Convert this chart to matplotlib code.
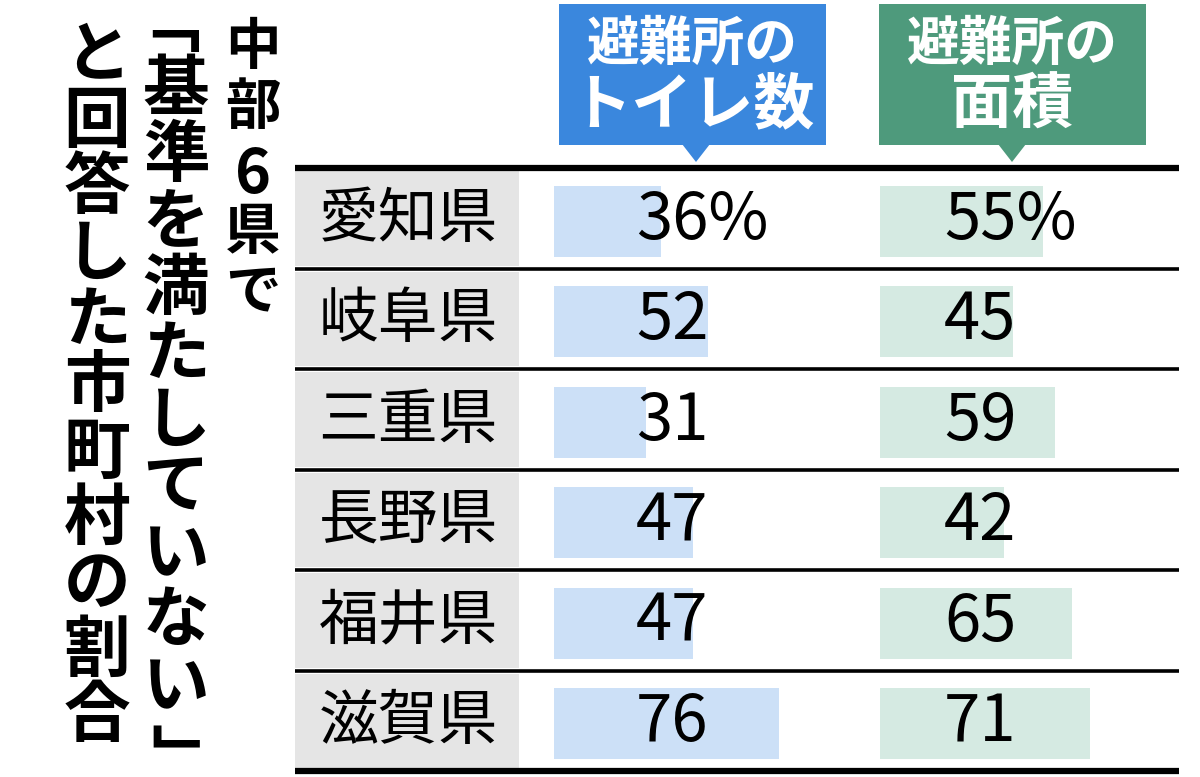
import matplotlib.pyplot as plt
from matplotlib.patches import Rectangle, Polygon

# data
prefectures = ['愛知県', '岐阜県', '三重県', '長野県', '福井県', '滋賀県']
toilet_pct = [36, 52, 31, 47, 47, 76]
area_pct = [55, 45, 59, 42, 65, 71]
toilet_head = ['避難所の', 'トイレ数']
area_head = ['避難所の', '面積']
title_cols = ['中部6県で', '﹁基準を満たしていない﹂', 'と回答した市町村の割合']

W, H = 1200, 777
plt.rcParams['font.family'] = ['Noto Sans CJK JP', 'DejaVu Sans']

fig = plt.figure(figsize=(W / 100, H / 100), dpi=100)
ax = fig.add_axes([0, 0, 1, 1])
ax.set_xlim(0, W)
ax.set_ylim(H, 0)
ax.axis('off')


def px_axes(x0, y0, x1, y1):
    a = fig.add_axes([x0 / W, 1 - y1 / H, (x1 - x0) / W, (y1 - y0) / H])
    a.axis('off')
    a.patch.set_alpha(0)
    return a


# vertical title, right column first
col_x = [253, 176, 97]
col1_y = [48, 108, 175, 233, 292]
col1_size = [40, 40, 44, 40, 40]
for ch, y, fs in zip(title_cols[0], col1_y, col1_size):
    ax.text(col_x[0], y, ch, fontsize=fs, fontweight='bold', ha='center', va='center')

# the vertical bracket glyphs sit off-centre in their em box, so nudge them
col2_chars = title_cols[1]
col2_y = [26] + [90 + 66.4 * k for k in range(10)] + [762]
col2_dx = [-9] + [0] * 10 + [9]
for ch, y, dx in zip(col2_chars, col2_y, col2_dx):
    ax.text(col_x[1] + dx, y, ch, fontsize=48, fontweight='bold', ha='center', va='center')
for k, ch in enumerate(title_cols[2]):
    ax.text(col_x[2], 57 + 66 * k, ch, fontsize=48, fontweight='bold', ha='center', va='center')

# table layout
top, row_h = 168, 100.5
n = len(prefectures)
bottom = top + n * row_h
left, right = 295, 1179

for i, name in enumerate(prefectures):
    y0 = top + i * row_h
    ax.add_patch(Rectangle((left, y0 + 3), 519 - left, row_h - 6, color='#e5e5e5', lw=0))
    ax.text(408, y0 + row_h / 2 + 2, name, fontsize=43, ha='center', va='center')

ax.hlines([top, bottom], left, right, color='black', lw=4.5)
ax.hlines([top + i * row_h for i in range(1, n)], left, right, color='black', lw=2.6)

# header boxes
heads = [(559, 826, 696, '#3a87dd', toilet_head), (879, 1146, 1012, '#4e9a7c', area_head)]
for x0, x1, tip, col, lines in heads:
    ax.add_patch(Rectangle((x0, 4), x1 - x0, 141, color=col, lw=0))
    ax.add_patch(Polygon([(tip - 14, 144), (tip + 14, 144), (tip, 162)], color=col, lw=0))
    cx = (x0 + x1) / 2
    ax.text(cx, 44, lines[0], fontsize=38, fontweight='bold', color='white', ha='center', va='center')
    ax.text(cx, 106, lines[1], fontsize=44, fontweight='bold', color='white', ha='center', va='center')

# bars, 100% = 296 px
bar_cols = [(554, toilet_pct, '#cce0f7', 27.7), (880, area_pct, '#d5eae2', 21.6)]
for x0, vals, col, tx in bar_cols:
    bax = px_axes(x0, top, x0 + 296, bottom)
    bax.set_xlim(0, 100)
    bax.set_ylim(n, 0)
    ypos = [i + 0.53 for i in range(n)]
    bax.barh(ypos, vals, height=0.71, color=col, lw=0)
    for i, v in enumerate(vals):
        label = f'{v}%' if i == 0 else f'{v}'
        bax.text(tx, i + 0.52, label, fontsize=47, ha='left', va='center')

fig.savefig('out.png', dpi=100)
